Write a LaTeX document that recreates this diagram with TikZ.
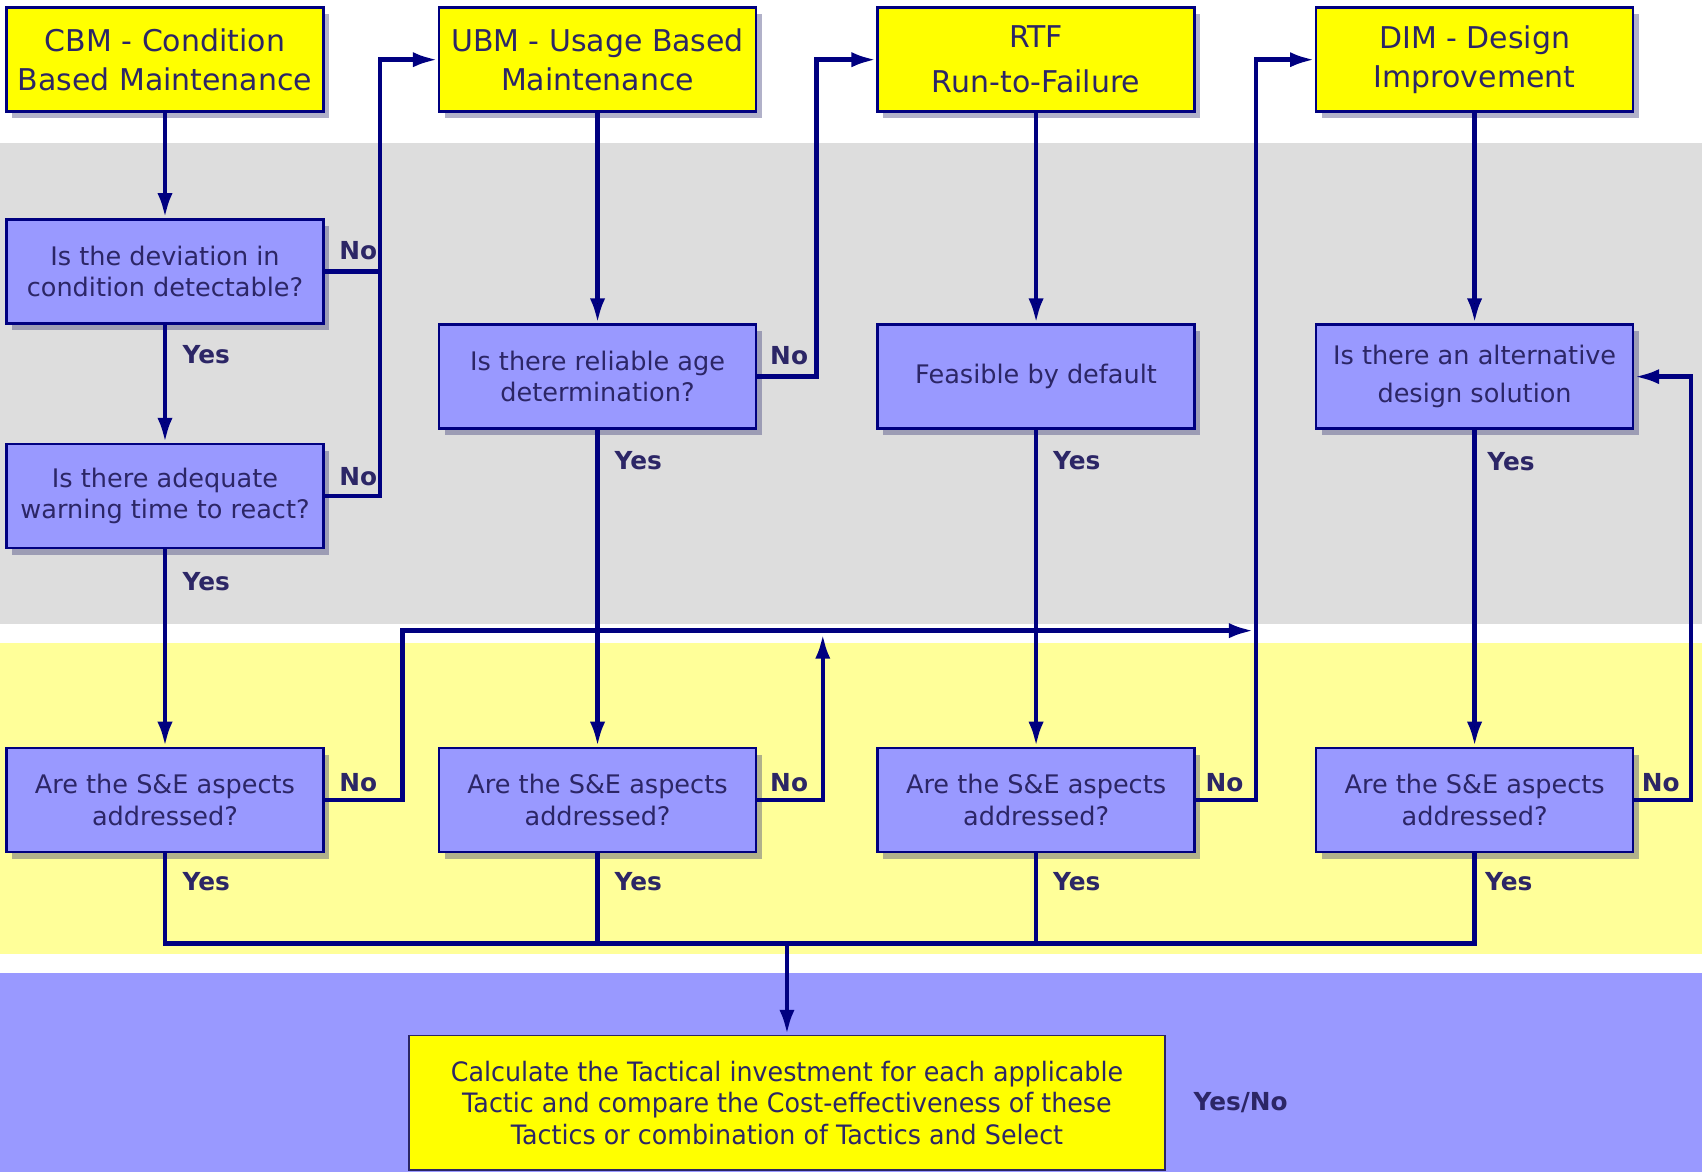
\documentclass[tikz,border=0pt]{standalone}
\usepackage{fontspec}
\setmainfont{DejaVu Sans}
\newfontfamily\condfont{DejaVu Sans}[FakeStretch=0.95]
\usetikzlibrary{arrows.meta,shadows}

\definecolor{navyline}{RGB}{0,0,128}
\definecolor{navytext}{RGB}{44,38,102}
\definecolor{boxblue}{RGB}{153,153,255}
\definecolor{boxyellow}{RGB}{255,255,0}
\definecolor{bandgrey}{RGB}{221,221,221}
\definecolor{bandyellow}{RGB}{255,255,153}

\tikzset{
	boxshadow/.style={drop shadow={shadow xshift=3pt, shadow yshift=-3.5pt, fill={rgb,255:red,60;green,60;blue,120}, opacity=0.4}},
	tactic/.style={shape=rectangle, draw=navyline, fill=boxyellow, line width=1.4pt, minimum width=5.84cm, minimum height=1.92cm, align=center, text=navytext, font=\fontsize{15.7}{20.5}\selectfont, boxshadow},
	query/.style={shape=rectangle, draw=navyline, fill=boxblue, line width=1.4pt, minimum width=5.84cm, minimum height=1.92cm, align=center, text=navytext, font=\fontsize{13.4}{16.5}\selectfont, boxshadow},
	answer/.style={text=navytext, font=\bfseries\fontsize{13}{15}\selectfont},
	flow/.style={draw=navyline, line width=2.4pt},
	flowarrow/.style={flow, -{Latex[length=13pt,width=8pt]}},
}

\begin{document}
\begin{tikzpicture}[x=0.2mm, y=-0.2mm]
	\useasboundingbox (0,0) rectangle (1568,1080);
	\fill[bandgrey]   (0,132) rectangle (1568,575);
	\fill[bandyellow] (0,592) rectangle (1568,879);
	\fill[boxblue]    (0,896) rectangle (1568,1080);

	\node[tactic] (cbm) at (152,55)    {CBM - Condition\\Based Maintenance};
	\node[tactic] (ubm) at (550.5,55)  {UBM - Usage Based\\Maintenance};
	\node[tactic] (rtf) at (954.5,55)  {RTF\\[3pt]Run-to-Failure};
	\node[tactic] (dim) at (1358.5,55) {DIM - Design\\Improvement};

	\node[query] (detect)   at (152,250)    {Is the deviation in\\condition detectable?};
	\node[query] (warning)  at (152,457)    {Is there adequate\\warning time to react?};
	\node[query] (agedet)   at (550.5,347)  {Is there reliable age\\determination?};
	\node[query] (feasible) at (954.5,347)  {Feasible by default};
	\node[query, font=\fontsize{13.4}{20}\selectfont] (altdes) at (1358.5,347) {Is there an alternative\\design solution};

	\node[query] (secbm) at (152,737)    {Are the S\&E aspects\\addressed?};
	\node[query] (seubm) at (550.5,737)  {Are the S\&E aspects\\addressed?};
	\node[query] (sertf) at (954.5,737)  {Are the S\&E aspects\\addressed?};
	\node[query] (sedim) at (1358.5,737) {Are the S\&E aspects\\addressed?};

	\node[shape=rectangle, draw=navytext, fill=boxyellow, line width=1pt, minimum width=13.92cm, minimum height=2.48cm, align=center, text=navytext, font=\condfont\fontsize{14}{16.5}\selectfont] (select) at (725,1016)
		{Calculate the Tactical investment for each applicable\\Tactic and compare the Cost-effectiveness of these\\Tactics or combination of Tactics and Select};

	\coordinate (cbmno)  at (350,150);
	\coordinate (ubmno)  at (752,200);
	\coordinate (rtfno)  at (1157,400);
	\coordinate (dimno)  at (1558,500);
	\coordinate (cbmse)  at (371,650);
	\coordinate (merge)  at (1155,581);
	\coordinate (rise)   at (758,584);
	\coordinate (bus)    at (725,869);

	\path [flowarrow] (cbm)   edge (detect);
	\path [flowarrow] (detect) edge (warning);
	\path [flowarrow] (warning) edge (secbm);
	\path [flowarrow] (ubm)   edge (agedet);
	\path [flowarrow] (agedet) edge (seubm);
	\path [flowarrow] (rtf)   edge (feasible);
	\path [flowarrow] (feasible) edge (sertf);
	\path [flowarrow] (dim)   edge (altdes);
	\path [flowarrow] (altdes) edge (sedim);

	\draw [flowarrow] (detect.east) -| (cbmno) |- (ubm.west);
	\draw [flow]      (warning.east) -| (cbmno);
	\draw [flowarrow] (agedet.east) -| (ubmno) |- (rtf.west);
	\draw [flowarrow] (sertf.east) -| (rtfno) |- (dim.west);
	\draw [flowarrow] (sedim.east) -| (dimno) |- (altdes.east);
	\draw [flowarrow] (secbm.east) -| (cbmse) |- (merge);
	\draw [flowarrow] (seubm.east) -| (rise);

	\draw [flow]      (secbm.south) |- (bus) -| (sedim.south);
	\draw [flow]      (seubm.south) -- (seubm.south |- bus);
	\draw [flow]      (sertf.south) -- (sertf.south |- bus);
	\draw [flowarrow] (bus) -- (select.north);

	\node[answer] (no1)  at (330,231)  {No};
	\node[answer] (yes1) at (190,327)  {Yes};
	\node[answer] (no2)  at (330,439)  {No};
	\node[answer] (yes2) at (190,536)  {Yes};
	\node[answer] (no3)  at (727,328)  {No};
	\node[answer] (yes3) at (588,424)  {Yes};
	\node[answer] (yes4) at (992,424)  {Yes};
	\node[answer] (yes5) at (1392,425) {Yes};
	\node[answer] (no4)  at (330,721)  {No};
	\node[answer] (no5)  at (727,721)  {No};
	\node[answer] (no6)  at (1128,721) {No};
	\node[answer] (no7)  at (1530,721) {No};
	\node[answer] (yes6) at (190,812)  {Yes};
	\node[answer] (yes7) at (588,812)  {Yes};
	\node[answer] (yes8) at (992,812)  {Yes};
	\node[answer] (yes9) at (1390,812) {Yes};
	\node[answer] (yesno) at (1143,1016) {Yes/No};
\end{tikzpicture}
\end{document}
